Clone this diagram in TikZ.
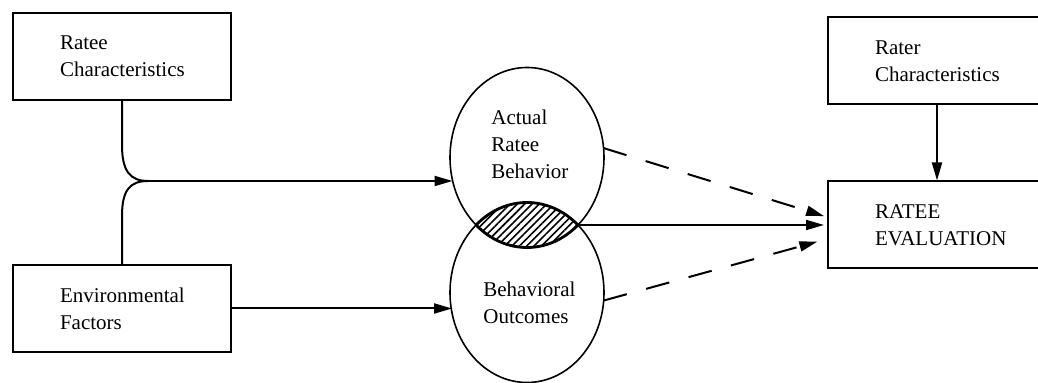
\documentclass[tikz,border=0pt]{standalone}
\usepackage{fontspec}
\setmainfont{Liberation Serif}
\usetikzlibrary{positioning, calc, shapes.geometric, arrows.meta, patterns.meta}
\newcommand{\figfont}{\fontsize{10.5}{13.5}\selectfont}
\tikzset{dbox/.style={draw, line width=1pt, minimum width=109pt, minimum height=43.5pt, text width=62pt, inner xsep=23.5pt, align=left, font=\figfont}}
\tikzset{dellip/.style={draw, ellipse, line width=0.8pt, minimum width=77pt, minimum height=90pt, inner sep=0pt, outer sep=0pt}}
\tikzset{dtext/.style={align=left, inner sep=0pt, anchor=west, font=\figfont}}
\tikzset{link/.style={draw, line width=1pt}}
\tikzset{arr/.style={draw, line width=1pt, -{Triangle[length=9pt, width=5pt]}}}
\tikzset{darr/.style={arr, dash pattern=on 12pt off 10pt}}
\tikzset{lens/.style={x radius=38.5pt, y radius=45pt}}

\begin{document}
\begin{tikzpicture}[x=0.5pt, y=-0.5pt]
\clip (0,0) rectangle (1038,383);
% boxes
\node[dbox] (rchar) at (122,56.5) {Ratee\\Characteristics};
\node[dbox] (env) at (122,308.5) {Environmental\\Factors};
\node[dbox] (rater) at (937,61) {Rater\\Characteristics};
\node[dbox] (eval) at (937,225) {RATEE\\EVALUATION};
% behaviour ellipses
\node[dellip] (actual) at (527,157.5) {};
\node[dellip] (outcome) at (527,292.5) {};
\node[dtext] (actual-txt) at (491,144) {Actual\\Ratee\\Behavior};
\node[dtext] (outcome-txt) at (483,302.5) {Behavioral\\Outcomes};
% overlap of the two
\begin{scope}
  \clip (actual.center) ellipse [lens];
  \fill[pattern={Lines[angle=45, distance=2.6pt, line width=0.8pt]}] (outcome.center) ellipse [lens];
  \draw[line width=1.4pt] (outcome.center) ellipse [lens];
\end{scope}
\begin{scope}
  \clip (outcome.center) ellipse [lens];
  \draw[line width=1.4pt] (actual.center) ellipse [lens];
\end{scope}
\coordinate (merge) at (148,181);
\coordinate (lensR) at (578,225);
%
\draw[link] (rchar.south) -- ++(0,44) .. controls +(0,26) and +(-18,0) .. (merge);
\draw[link] (env.north) -- ++(0,-48) .. controls +(0,-26) and +(-18,0) .. (merge);
\draw[arr] (merge) -- ($(merge -| actual.west)+(2.5,0)$);
\draw[arr, shorten >=-1pt] (env.east) -- (env.east -| outcome.west);
\draw[arr] (rater.south) -- (eval.north);
\draw[darr, shorten >=1.5pt] (actual.7) -- ([yshift=4pt]eval.west);
\draw[arr, shorten >=1.5pt] (lensR) -- (eval.west);
\draw[darr, shorten >=5pt] (outcome.-6) -- ([yshift=-7pt]eval.west);
\end{tikzpicture}
\end{document}
